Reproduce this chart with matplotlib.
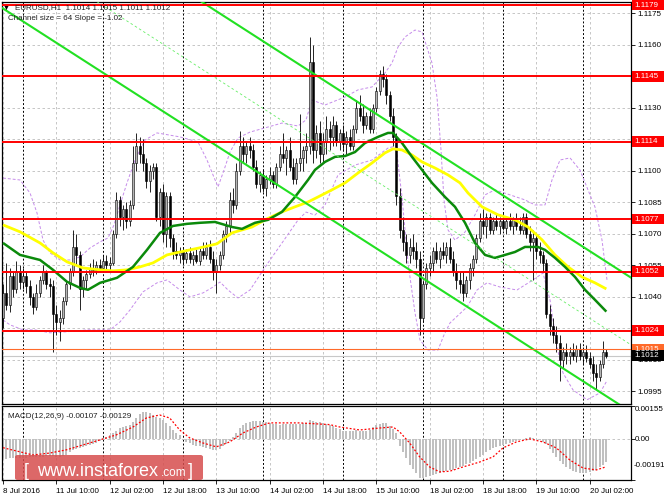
import numpy as np
import matplotlib.pyplot as plt
from matplotlib.patches import Rectangle, FancyBboxPatch
from matplotlib.transforms import blended_transform_factory

# prices are stored as pips above 1.1000
BASE = 1.1

opens = [30, 42, 36, 50, 44, 52, 47, 50, 45, 40,
         35, 42, 48, 52, 46, 45, 32, 28, 30, 38,
         46, 52, 64, 60, 44, 48, 51, 54, 53, 55,
         54, 57, 55, 56, 70, 86, 78, 82, 76, 84,
         104, 112, 108, 104, 95, 100, 102, 78, 90, 70,
         88, 68, 62, 60, 62, 58, 61, 58, 60, 57,
         62, 60, 64, 58, 52, 55, 60, 70, 74, 86,
         84, 100, 112, 108, 112, 110, 102, 94, 98, 92,
         96, 98, 94, 102, 108, 106, 110, 102, 96, 104,
         106, 110, 112, 152, 110, 118, 108, 114, 120, 116,
         122, 114, 118, 113, 116, 112, 120, 130, 126, 122,
         126, 120, 130, 138, 146, 144, 136, 126, 116, 88,
         72, 66, 60, 64, 62, 58, 30, 46, 54, 56,
         62, 58, 62, 60, 64, 58, 52, 48, 46, 42,
         48, 54, 58, 68, 76, 74, 78, 72, 76, 74,
         76, 73, 76, 74, 77, 74, 72, 78, 70, 66,
         68, 62, 60, 56, 32, 26, 22, 18, 10, 14,
         12, 14, 12, 15, 12, 14, 11, 8, 4, 2,
         8, 14]
highs = [46, 56, 54, 52, 57, 55, 54, 52, 48, 42,
         46, 50, 55, 53, 49, 48, 36, 34, 40, 48,
         54, 72, 70, 62, 50, 53, 56, 58, 57, 58,
         60, 60, 59, 72, 90, 88, 84, 85, 86, 112,
         118, 116, 115, 106, 103, 104, 104, 92, 94, 90,
         90, 70, 66, 64, 64, 63, 64, 62, 63, 64,
         66, 66, 67, 62, 58, 62, 72, 76, 90, 92,
         104, 119, 116, 114, 116, 113, 105, 100, 101, 98,
         102, 100, 104, 112, 118, 112, 116, 106, 106, 127,
         112, 118, 164, 160, 122, 124, 118, 126, 124, 126,
         124, 120, 122, 119, 120, 122, 134, 136, 132, 128,
         130, 132, 140, 148, 150, 146, 138, 130, 118, 92,
         78, 70, 68, 70, 66, 62, 48, 56, 60, 64,
         66, 64, 66, 66, 68, 62, 56, 52, 52, 50,
         56, 60, 70, 80, 82, 80, 80, 78, 80, 78,
         80, 78, 80, 78, 80, 78, 80, 80, 74, 72,
         70, 66, 62, 58, 36, 30, 26, 22, 16, 18,
         16, 18, 17, 18, 16, 17, 14, 12, 8, 10,
         19, 15]
lows = [25, 34, 33, 40, 42, 44, 44, 42, 36, 32,
        34, 40, 46, 44, 40, 14, 22, 19, 27, 36,
        44, 50, 55, 34, 40, 44, 49, 50, 51, 52,
        52, 53, 52, 55, 68, 74, 72, 73, 74, 82,
        100, 104, 100, 92, 90, 96, 76, 74, 66, 64,
        64, 58, 58, 56, 55, 56, 56, 55, 56, 55,
        58, 58, 56, 48, 42, 53, 58, 66, 70, 80,
        82, 98, 104, 104, 106, 100, 92, 90, 90, 88,
        94, 92, 92, 100, 104, 98, 100, 94, 94, 100,
        100, 104, 108, 104, 106, 104, 104, 108, 110, 112,
        112, 110, 110, 108, 110, 110, 118, 124, 118, 120,
        118, 118, 128, 136, 140, 132, 124, 112, 84, 68,
        62, 56, 56, 58, 54, 22, 28, 44, 50, 52,
        56, 54, 58, 56, 56, 50, 44, 42, 38, 40,
        44, 50, 56, 66, 70, 68, 70, 70, 72, 70,
        72, 70, 72, 70, 72, 70, 70, 68, 62, 48,
        58, 56, 52, 30, 22, 18, 14, 0, 6, 8,
        8, 10, 9, 10, 8, 9, 6, 0, -4, 0,
        6, 11]
closes = [42, 36, 50, 44, 52, 47, 50, 45, 40, 35,
          42, 48, 52, 46, 45, 32, 28, 30, 38, 46,
          52, 64, 60, 44, 48, 51, 54, 53, 55, 54,
          57, 55, 56, 70, 86, 78, 82, 76, 84, 104,
          112, 108, 104, 95, 100, 102, 78, 90, 70, 88,
          68, 62, 60, 62, 58, 61, 58, 60, 57, 62,
          60, 64, 58, 52, 55, 60, 70, 74, 86, 84,
          100, 112, 108, 112, 110, 102, 94, 98, 92, 96,
          98, 94, 102, 108, 106, 110, 102, 96, 104, 106,
          110, 112, 152, 110, 118, 108, 114, 120, 116, 122,
          114, 118, 113, 116, 112, 120, 130, 126, 122, 126,
          120, 130, 138, 146, 144, 136, 126, 116, 88, 72,
          66, 60, 64, 62, 58, 30, 46, 54, 56, 62,
          58, 62, 60, 64, 58, 52, 48, 46, 42, 48,
          54, 58, 68, 76, 74, 78, 72, 76, 74, 76,
          73, 76, 74, 77, 74, 72, 78, 70, 66, 68,
          62, 60, 56, 32, 26, 22, 18, 10, 14, 12,
          14, 12, 15, 12, 14, 11, 8, 4, 2, 8,
          14, 12]

# moving averages / bands (bar index, pips)
green_idx = [0, 5.1, 11.1, 15, 19.2, 23.1, 25.5, 29.1, 34.2, 39, 43.2, 47.1, 51, 55.2, 59.1,
             63.6, 68.7, 71.7, 75.6, 79.5, 83.7, 87.6, 91.5, 93.6, 96.6, 99.6, 102.6, 105.6,
             108.6, 112.5, 115.5, 117, 119.7, 122.7, 125.7, 128.7, 132.6, 135.6, 138.6, 141.6,
             144.6, 147.6, 150.6, 153.6, 156.6, 160.5, 162.6, 165.6, 168.6, 171.6, 174.6, 177.6, 181]
green_pips = [65.7, 60, 57.6, 52.9, 47.2, 44.3, 43.4, 46.7, 49.1, 54.3, 62.4, 70.5, 73.8, 74.8,
              75.3, 75.7, 73.3, 72.4, 75.3, 76.7, 80.5, 87.6, 95.7, 100.5, 104.3, 106.7, 107.1,
              109, 113.3, 116.2, 118.1, 118.1, 113.3, 106.7, 100.5, 94.3, 87.6, 82.9, 75.3, 65.7,
              60, 58.6, 60, 61.4, 63.8, 63.8, 62.4, 58.6, 54.3, 49.5, 43.4, 38.6, 33]
yellow_idx = [0, 5.1, 11.1, 15, 19.2, 24, 29.1, 33, 37.2, 41.1, 45, 49.2, 53.1, 59.1, 64.2,
              68.7, 74.7, 78.6, 83.7, 87.6, 91.5, 94.5, 98.7, 102.6, 106.5, 110.7, 114.6, 117,
              119.7, 122.7, 125.7, 129.6, 133.5, 137.1, 139.5, 143.7, 148.5, 153.6, 157.5, 161.7,
              165.6, 169.5, 173.7, 177.6, 181]
yellow_pips = [74.3, 71, 65.7, 61, 56.7, 53.8, 52.9, 52.4, 52.9, 54.3, 56.2, 60, 61.4, 63.4, 65.3,
               70.5, 73.3, 76.7, 80.5, 82.9, 85.2, 87.6, 91, 94.3, 99, 103.8, 108.6, 110.5, 110,
               107.6, 104.3, 101.4, 98.1, 94.3, 89.5, 82.9, 79.1, 76.7, 73.3, 67.2, 60, 54.3,
               49.5, 46.7, 43.8]
upper_idx = [0, 5.1, 8.1, 10.2, 12, 14.1, 17.1, 20.1, 23.1, 26.1, 29.1, 31.5, 33.3, 35.1, 37.2,
             39.6, 42.6, 46.2, 53.1, 58.5, 61.2, 63, 64.5, 66.3, 68.1, 70.5, 74.1, 78.6, 83.7,
             88.5, 90.9, 92.7, 96.6, 102.6, 106.5, 110.7, 114.6, 116.7, 118.5, 120.6, 123.6,
             125.7, 128.7, 130.2, 131.4, 132.3, 133.5, 135.6, 138.6, 141.6, 144.6, 147.6, 152.1,
             156.6, 159.6, 162.6, 164.7, 167.1, 170.1, 173.1, 176.1, 177.6, 179.7, 181.2]
upper_pips = [96.6, 95.7, 89.5, 80, 67.1, 61, 57.6, 57.6, 59, 63.3, 66.2, 68.1, 74.3, 83.8, 94.3,
              105.2, 114.7, 118.1, 116.2, 113.8, 105.2, 98.1, 92.4, 100.4, 109, 115.7, 118.5,
              120.5, 122.8, 121.4, 124.3, 133.8, 131.4, 135.2, 138.6, 140, 146.7, 151.4, 159,
              163.8, 167.1, 166.2, 151.4, 135.2, 110, 86.2, 71.9, 67.1, 70.9, 79.1, 88.6, 91,
              88.6, 86.2, 83.8, 83.8, 95.7, 105.2, 106.2, 100.4, 88.6, 82.8, 67.1, 48.1]
lower_idx = [0, 2.1, 6, 9.6, 14.1, 19.2, 25.2, 32.1, 35.1, 38.1, 42, 46.2, 49.2, 53.1, 56.1, 60,
             63, 65.1, 67.5, 70.5, 74.1, 79.5, 83.7, 88.5, 90.9, 93.6, 96.6, 100.5, 105.6, 110.7,
             115.5, 117.9, 119.7, 121.5, 123.6, 125.1, 127.5, 130.5, 132.3, 134.1, 139.2, 142.2,
             145.2, 149.1, 154.2, 159, 162, 164.1, 166.2, 168, 171, 175.2, 179.1, 181]
lower_pips = [29, 26.7, 24.3, 24.3, 22.9, 23.4, 24.3, 24.3, 28.1, 33.8, 42.4, 46.7, 48.1, 43.3,
              40, 41.9, 44.7, 47.1, 43.3, 39.5, 43.3, 56.2, 65.7, 76.6, 80.4, 79, 83.8, 98.1,
              102.8, 105.2, 110.9, 111.9, 87.6, 56.2, 32.4, 19.5, 14.7, 14.7, 21.9, 27.6, 35.2,
              43.3, 46.7, 44.7, 43.3, 48.1, 51.4, 38.6, 16.2, 3.8, -4.3, -9, -5.7, -0.4]

# MACD main (histogram) in units of 0.00001
macd_main = [-90, -92, -90, -88, -88, -87, -86, -86, -85, -84,
             -83, -82, -82, -81, -80, -80, -82, -84, -80, -72,
             -62, -52, -44, -42, -38, -34, -28, -22, -16, -10,
             6, 12, 18, 28, 40, 50, 58, 62, 66, 80,
             100, 118, 126, 128, 122, 115, 104, 100, 88, 74,
             60, 45, 30, 18, -4, -14, -20, -26, -30, -34,
             -38, -42, -46, -50, -50, -44, -34, -22, -10, 8,
             28, 50, 66, 76, 82, 84, 86, 84, 80, 78,
             74, 72, 70, 68, 70, 72, 72, 70, 70, 72,
             74, 76, 88, 86, 82, 78, 74, 70, 66, 60,
             52, 46, 40, 38, 36, 38, 42, 40, 38, 40,
             44, 56, 66, 72, 76, 74, 62, 48, 28, -30,
             -62, -90, -120, -140, -156, -180, -182, -176, -172, -168,
             -164, -158, -154, -150, -146, -142, -136, -130, -124, -118,
             -110, -100, -92, -82, -72, -60, -50, -42, -36, -30,
             -26, -22, -18, -14, -10, -4, 2, 6, 8, 6,
             2, -6, -12, -24, -44, -66, -84, -104, -118, -130,
             -140, -148, -154, -156, -158, -156, -152, -148, -142, -132,
             -120, -107]
sig_idx = [0, 9, 14, 19, 24, 29, 34, 39, 43, 47, 50, 53, 56, 60, 64, 68, 72, 76, 80, 89, 98,
           101, 107, 113, 117, 119, 122, 125, 128, 131, 134, 138, 143, 147, 150, 154, 158, 162,
           166, 170, 174, 178, 181]
sig_val = [-40, -74, -65, -50, -27, -4, 20, 57, 99, 113, 99, 43, 6, -18, -36, -13, 29, 57, 76,
           76, 68, 57, 43, 52, 57, 34, -18, -83, -130, -153, -150, -130, -107, -83, -41, -13, 1,
           -13, -41, -97, -135, -144, -129]

levels = [1.1179, 1.1145, 1.1114, 1.1077, 1.1052, 1.1024]
level_orange = 1.1015
bid = 1.1012

time_pos = [0, 16, 32, 48, 64, 80, 96, 112, 128, 144, 160, 176]
time_labels = ["8 Jul 2016", "11 Jul 10:00", "12 Jul 02:00", "12 Jul 18:00", "13 Jul 10:00",
               "14 Jul 02:00", "14 Jul 18:00", "15 Jul 10:00", "18 Jul 02:00", "18 Jul 18:00",
               "19 Jul 10:00", "20 Jul 02:00"]
day_starts = [6, 30, 54, 78, 102, 126, 150, 174]

# regression channel: slope -1.02 pips per bar, width 64 pips
CH_SLOPE = -1.02
CH_I0, CH_P0 = 67.5, 108.5
CH_SIZE = 64

FONT = ['Liberation Sans', 'DejaVu Sans']
FS = 5.8
plt.rcParams['font.family'] = FONT

W, H = 664, 498
fig = plt.figure(figsize=(W / 100, H / 100), dpi=100)
fig.patch.set_facecolor('white')


def box(x0, y0, x1, y1):
    return [x0 / W, 1 - y1 / H, (x1 - x0) / W, (y1 - y0) / H]


ax = fig.add_axes(box(2, 2, 631, 404))
ax2 = fig.add_axes(box(2, 406, 631, 480))

XL = (-0.3, 188.4)
grid_kw = dict(color='#BDBDBD', linestyle=(0, (3, 3)), linewidth=0.6)

# ---- main chart ----
p = lambda v: BASE + np.asarray(v, dtype=float) / 1e4
o, h, l, c = p(opens), p(highs), p(lows), p(closes)
idx = np.arange(len(closes))
up = c >= o

for d in day_starts:
    ax.axvline(d, color='black', lw=0.7, ls=(0, (2, 2)), zorder=1)
    ax2.axvline(d, color='black', lw=0.7, ls=(0, (2, 2)), zorder=1)

ax.plot(upper_idx, p(upper_pips), color='#C58BEA', lw=0.7, ls=(0, (3, 2)), zorder=1.5)
ax.plot(lower_idx, p(lower_pips), color='#C58BEA', lw=0.7, ls=(0, (3, 2)), zorder=1.5)

ax.vlines(idx, l, h, color='black', lw=0.6, zorder=2)
bh = np.maximum(np.abs(c - o), 0.00002)
bb = np.minimum(o, c)
ax.bar(idx[up], bh[up], bottom=bb[up], width=0.62, color='#B4B4B4', edgecolor='black',
       linewidth=0.4, zorder=2.5)
ax.bar(idx[~up], bh[~up], bottom=bb[~up], width=0.62, color='black', edgecolor='black',
       linewidth=0.4, zorder=2.5)

ax.plot(yellow_idx, p(yellow_pips), color='#FFFF00', lw=2.0, zorder=3, solid_capstyle='butt')
ax.plot(green_idx, p(green_pips), color='#0B8A0B', lw=1.8, zorder=3.1, solid_capstyle='butt')

xr = np.array(XL)
lower_line = CH_P0 + CH_SLOPE * (xr - CH_I0)
ax.plot(xr, p(lower_line), color='#22E022', lw=1.5, zorder=4)
ax.plot(xr, p(lower_line + CH_SIZE), color='#22E022', lw=1.5, zorder=4)
ax.plot(xr, p(lower_line + CH_SIZE / 2), color='#66EE66', lw=0.6, ls=(0, (3, 3)), zorder=4)

for lv in levels:
    ax.axhline(lv, color='#FF0000', lw=1.4, zorder=5)
ax.axhline(level_orange, color='#FF6A2A', lw=0.8, zorder=5)
ax.axhline(bid, color='#C8C8C8', lw=0.8, zorder=1.8)

ax.set_xlim(*XL)
ax.set_ylim(BASE - 11.0 / 1e4, BASE + 180.45 / 1e4)
yt = [round(1.0995 + 0.0015 * k, 4) for k in range(13)]
hidden = {1.1145, 1.1115, 1.1025}   # fully covered by the level boxes
ax.set_yticks(yt)
ax.set_yticklabels(["" if t in hidden else f"{t:.4f}" for t in yt])
ax.yaxis.tick_right()
ax.tick_params(axis='y', length=3, width=0.6, pad=1.5, labelsize=FS, colors='black')
ax.set_xticks(time_pos)
ax.tick_params(axis='x', length=0, labelbottom=False)
ax.grid(True, **grid_kw)
ax.set_axisbelow(True)
for s in ax.spines.values():
    s.set_color('black')
    s.set_linewidth(0.9)

# price boxes on the right axis
tr = blended_transform_factory(ax.transAxes, ax.transData)
bw = 33 / 629
bh_box = 5.0 / 1e4


def price_box(val, fc):
    ax.add_patch(Rectangle((1.0015, val - bh_box / 2), bw, bh_box, transform=tr, fc=fc,
                           ec='none', clip_on=False, zorder=10))
    ax.text(1.006, val, f"{val:.4f}", transform=tr, color='white', fontsize=FS,
            va='center', ha='left', clip_on=False, zorder=11)


for lv in levels:
    price_box(lv, '#FF0000')
price_box(level_orange, '#FF6A2A')
price_box(bid, '#000000')

# ---- MACD panel ----
mv = np.array(macd_main) / 1e5
ax2.bar(idx, mv, width=0.62, color='#C0C0C0', zorder=2)
ax2.plot(sig_idx, np.array(sig_val) / 1e5, color='#FF0000', lw=0.9, ls=(0, (1.5, 1.5)), zorder=3)
ax2.axhline(0, **grid_kw, zorder=1)
ax2.set_xlim(*XL)
ax2.set_ylim(-0.00191, 0.00155)
ax2.set_xticks(time_pos)
ax2.set_xticklabels(time_labels, fontsize=FS)
for lab in ax2.get_xticklabels():
    lab.set_horizontalalignment('left')
ax2.tick_params(axis='x', length=3, width=0.6, pad=2.5)
ax2.grid(True, axis='x', **grid_kw)
ax2.set_axisbelow(True)
ax2.yaxis.tick_right()
ax2.set_yticks([0.00155, 0.0, -0.00191])
ax2.set_yticklabels([])
ax2.tick_params(axis='y', length=3, width=0.6)
for s in ax2.spines.values():
    s.set_color('black')
    s.set_linewidth(0.9)
tr2 = blended_transform_factory(ax2.transAxes, ax2.transData)
ax2.text(1.006, 0.00155, "0.00155", transform=tr2, fontsize=FS, va='top', ha='left', clip_on=False)
ax2.text(1.006, 0.0, "0.00", transform=tr2, fontsize=FS, va='center', ha='left', clip_on=False)
ax2.text(1.004, -0.00125, "-0.00191", transform=tr2, fontsize=FS, va='center', ha='left',
         clip_on=False)
ax2.text(0.01, 0.86, "MACD(12,26,9) -0.00107 -0.00129", transform=ax2.transAxes, fontsize=FS,
         va='center', ha='left', color='#202020')

# ---- header texts ----
fig.text(3 / W, 1 - 8 / H, "\u25bc", fontsize=5, va='center', ha='left', color='black')
fig.text(15 / W, 1 - 8 / H, "EURUSD,H1  1.1014 1.1015 1.1011 1.1012", fontsize=FS,
         va='center', ha='left', color='#202020')
fig.text(8 / W, 1 - 19 / H, "Channel size = 64 Slope = -1.02", fontsize=FS,
         va='center', ha='left', color='#202020')

# ---- watermark ----
fig.patches.append(FancyBboxPatch((15 / W, 1 - 480 / H), 188 / W, 25 / H,
                                  boxstyle='round,pad=0,rounding_size=0.004',
                                  transform=fig.transFigure, fc=(0.84, 0.30, 0.30),
                                  ec='none', alpha=0.85, zorder=20))
fig.text(24 / W, 1 - 476 / H, "[", fontsize=13, color='white', va='baseline', ha='left', zorder=21)
fig.text(37 / W, 1 - 476 / H, "www.instaforex", fontsize=13, color='white', va='baseline',
         ha='left', zorder=21)
fig.text(161 / W, 1 - 476 / H, ".com", fontsize=8.5, color='white', va='baseline', ha='left',
         zorder=21)
fig.text(188 / W, 1 - 476 / H, "]", fontsize=13, color='white', va='baseline', ha='left', zorder=21)

fig.savefig("out.png", dpi=100)
